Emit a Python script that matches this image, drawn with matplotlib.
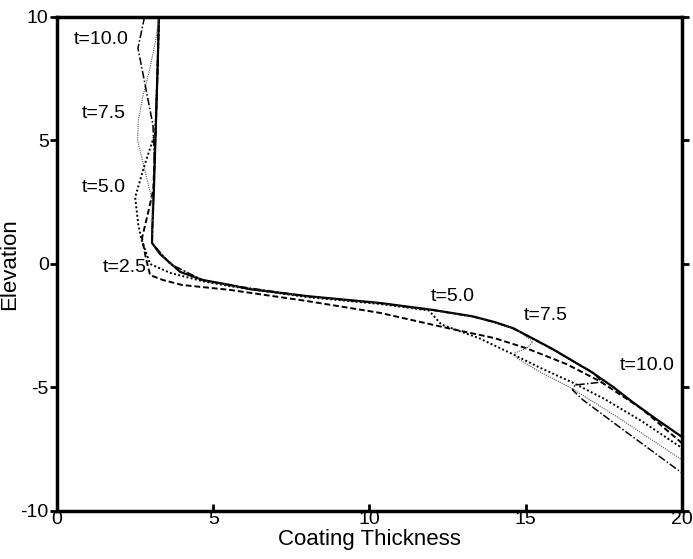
#!/usr/bin/env python
"""Coating thickness profiles at several times."""
import matplotlib
matplotlib.use("Agg")
import matplotlib.pyplot as plt

# solid profile (reference)
solid_x = [3.26, 3.22, 3.16, 3.10, 3.05, 3.04, 3.30, 3.62, 3.94, 4.67, 5.54, 6.18,
           8.0, 10.34, 12.03, 13.3, 14.0, 14.6, 15.2, 15.87, 16.5, 17.15, 17.8,
           18.43, 19.2, 20.0]
solid_y = [10.0, 8.0, 5.5, 3.0, 1.5, 0.85, 0.40, 0.04, -0.32, -0.65, -0.85, -1.02,
           -1.30, -1.58, -1.86, -2.12, -2.35, -2.60, -3.00, -3.45, -3.92, -4.41, -4.98,
           -5.60, -6.30, -7.00]

# t = 2.5 (dashed)
t25_x = [3.26, 3.22, 3.16, 3.08, 2.90, 2.72, 2.85, 2.98, 3.39, 4.0, 5.54, 8.0,
         10.34, 12.48, 14.0, 15.04, 16.3, 17.38, 18.7, 20.0]
t25_y = [10.0, 8.0, 5.5, 3.0, 2.0, 1.05, 0.2, -0.45, -0.65, -0.85, -1.05, -1.5,
         -1.98, -2.59, -3.0, -3.42, -4.05, -4.75, -5.85, -7.25]

# t = 5.0 (dotted)
t50_x = [3.26, 3.22, 3.16, 3.14, 2.80, 2.50, 2.60, 2.70, 2.98, 3.62, 4.67, 5.54,
         8.0, 10.34, 11.9, 12.3, 13.5, 14.5, 15.46, 16.5, 17.5, 18.7, 20.0]
t50_y = [10.0, 8.0, 5.8, 5.3, 4.0, 2.7, 1.6, 1.0, 0.0, -0.36, -0.70, -0.90,
         -1.34, -1.62, -1.88, -2.45, -3.0, -3.6, -4.2, -4.8, -5.45, -6.35, -7.45]

# t = 7.5 (thin dotted)
t75_x = [3.26, 3.15, 2.95, 2.75, 2.60, 2.58, 2.75, 3.04, 3.06, 3.04, 3.62, 4.67,
         5.54, 8.0, 10.34, 12.03, 13.3, 14.0, 14.7, 15.23, 15.04, 14.66, 14.7, 15.5,
         16.5, 18.0, 20.0]
t75_y = [10.0, 9.0, 7.8, 6.8, 5.8, 5.0, 4.1, 2.6, 1.6, 0.85, 0.02, -0.67,
         -0.87, -1.32, -1.60, -1.88, -2.14, -2.37, -2.64, -3.16, -3.40, -3.60, -3.80,
         -4.40, -5.05, -6.25, -7.93]

# t = 10.0 (dash-dot)
t100_x = [2.80, 2.59, 2.82, 3.07, 3.12, 3.08, 3.04, 3.62, 4.67, 5.54, 8.0, 10.34,
          12.03, 13.3, 14.0, 14.6, 15.2, 15.87, 16.5, 17.15, 17.44, 16.58, 16.5,
          16.83, 18.0, 20.0]
t100_y = [10.0, 8.74, 7.25, 5.63, 4.0, 2.5, 0.85, 0.0, -0.66, -0.86, -1.31, -1.59,
          -1.87, -2.13, -2.36, -2.61, -3.01, -3.46, -3.93, -4.38, -4.78, -4.90, -5.10,
          -5.50, -6.60, -8.46]

left_labels = ["t=10.0", "t=7.5", "t=5.0", "t=2.5"]
left_label_x = [0.55, 0.78, 0.78, 1.45]
left_label_y = [9.07, 6.1, 3.08, -0.16]
right_labels = ["t=5.0", "t=7.5", "t=10.0"]
right_label_x = [11.95, 14.95, 18.0]
right_label_y = [-1.3, -2.1, -4.1]

plt.rcParams["font.family"] = ["Liberation Sans", "DejaVu Sans"]
plt.rcParams["axes.unicode_minus"] = False

fig = plt.figure(figsize=(6.93, 5.59), dpi=100)
ax = fig.add_axes([0.0823, 0.0859, 0.9017, 0.8837])

ax.plot(solid_x, solid_y, color="black", linewidth=1.6)
ax.plot(t25_x, t25_y, color="black", linewidth=1.4, linestyle=(0, (3, 1.5)))
ax.plot(t50_x, t50_y, color="black", linewidth=1.4, linestyle=(0, (1, 1.2)))
ax.plot(t75_x, t75_y, color="#555555", linewidth=0.8, linestyle=(0, (1, 1)))
ax.plot(t100_x, t100_y, color="black", linewidth=1.1,
        linestyle=(0, (5, 1.5, 1, 1.5)))

for lab, x, y in zip(left_labels, left_label_x, left_label_y):
    ax.text(x, y, lab, ha="left", va="center", fontsize=14)
for lab, x, y in zip(right_labels, right_label_x, right_label_y):
    ax.text(x, y, lab, ha="left", va="center", fontsize=14)

ax.set_xlim(0, 20)
ax.set_ylim(-10, 10)
ax.set_xticks([0, 5, 10, 15, 20])
ax.set_yticks([-10, -5, 0, 5, 10])
ax.set_xlabel("Coating Thickness", fontsize=16, labelpad=1)
ax.set_ylabel("Elevation", fontsize=16, labelpad=0)
for s in ax.spines.values():
    s.set_linewidth(2.5)
ax.tick_params(axis="both", direction="in", length=5, width=2, pad=0,
               labelsize=14, right=True)
ax.tick_params(axis="y", direction="out", pad=1)

plt.savefig("out.png", dpi=100)
